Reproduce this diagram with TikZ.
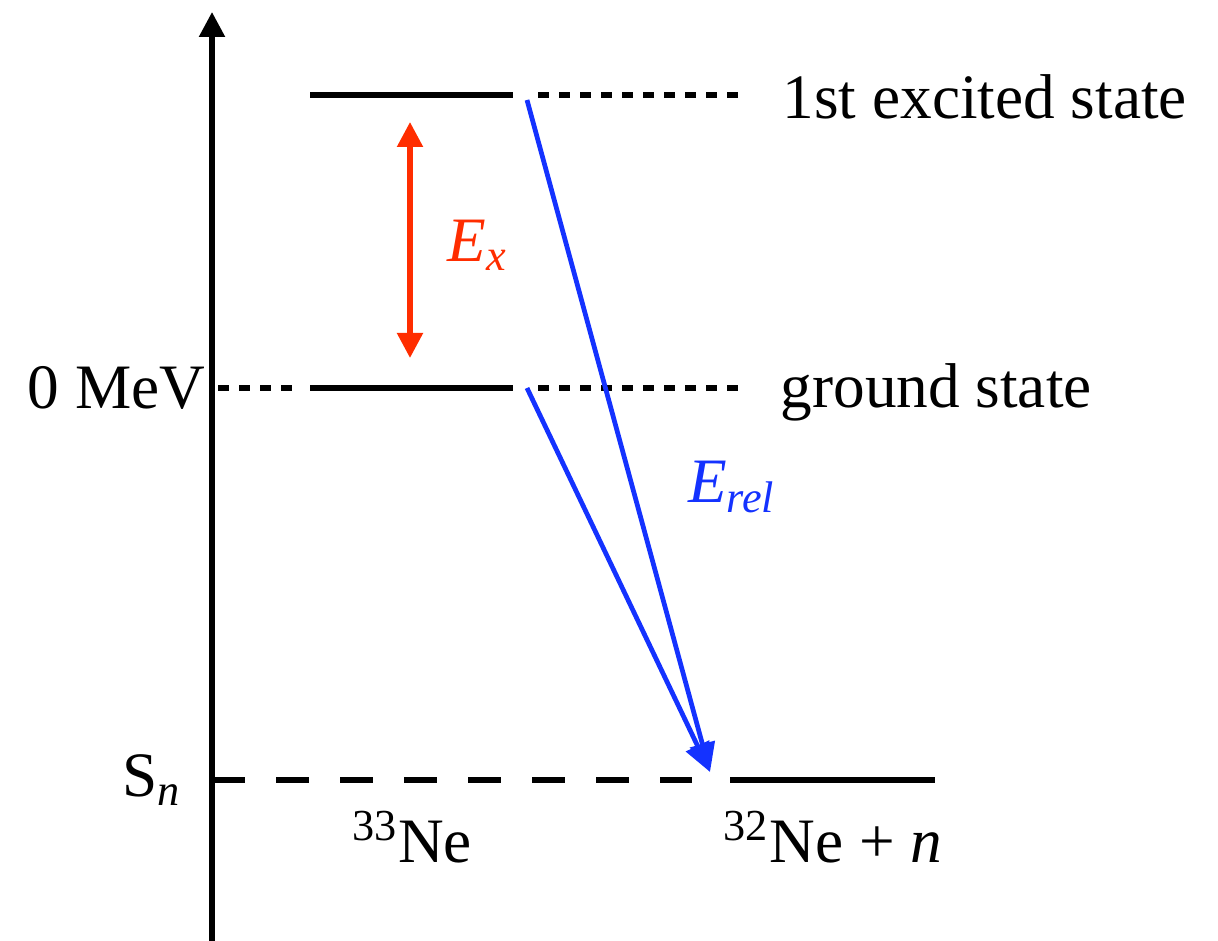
\documentclass[tikz,border=0pt]{standalone}
\usepackage{fontspec}
\setmainfont{Liberation Serif}
\usetikzlibrary{arrows.meta,positioning,calc}
\definecolor{exRed}{RGB}{255,45,0}
\definecolor{relBlue}{RGB}{20,50,255}

\begin{document}
\begin{tikzpicture}[>={Triangle[length=0.25cm,width=0.25cm]}, every node/.style={font=\fontsize{18}{21}\selectfont, inner sep=0pt}]
\tikzstyle{lvl}=[line width=1.6pt]
\tikzstyle{dotlvl}=[line width=1.5pt, dash pattern=on 0.11cm off 0.1cm]
\tikzstyle{snlvl}=[line width=1.5pt, dash pattern=on 0.33cm off 0.31cm]
\tikzstyle{decay}=[->, line width=1.35pt, draw=relBlue, >={Triangle[length=0.29cm,width=0.25cm]}]
\useasboundingbox (0,0) rectangle (12.18,9.41);
% energy axis
\coordinate (ax0) at (2.12,0);
\coordinate (ax1) at (2.12,9.29);
\draw[->, line width=1.5pt] (ax0) -- (ax1);
% 1st excited state
\coordinate (ex0) at (3.10,8.46);
\coordinate (ex1) at (5.13,8.46);
\coordinate (exd0) at (5.38,8.46);
\coordinate (exd1) at (7.40,8.46);
\draw[lvl] (ex0) -- (ex1);
\draw[dotlvl] (exd0) -- (exd1);
\node[right=0.42cm of exd1, anchor=west, yshift=-0.02cm] (exlbl) {1st excited state};
% ground state
\coordinate (gs) at (2.18,5.53);
\coordinate (gsd) at (2.95,5.53);
\coordinate (gs0) at (3.10,5.53);
\coordinate (gs1) at (5.13,5.53);
\coordinate (gsd0) at (5.38,5.53);
\coordinate (gsd1) at (7.40,5.53);
\draw[dotlvl] (gs) -- (gsd);
\draw[lvl] (gs0) -- (gs1);
\draw[dotlvl] (gsd0) -- (gsd1);
\node[left=0.12cm of gs, anchor=east] (mev) {0 MeV};
\node[right=0.40cm of gsd1, anchor=west, yshift=-0.04cm] (gslbl) {ground state};
% neutron threshold
\coordinate (sn0) at (2.12,1.61);
\coordinate (sn1) at (6.92,1.61);
\coordinate (nn0) at (7.30,1.61);
\coordinate (nn1) at (9.35,1.61);
\draw[snlvl] (sn0) -- (sn1);
\draw[lvl] (nn0) -- (nn1);
\node[left=0.30cm of sn0, anchor=east] (snlbl) {S\textsubscript{\textit{n}}};
\coordinate (ne33pos) at (4.12,1.61);
\coordinate (ne32pos) at (8.33,1.61);
\node[below=0.30cm of ne33pos] (ne33) {\textsuperscript{33}Ne};
\node[below=0.30cm of ne32pos] (ne32) {\textsuperscript{32}Ne + \textit{n}};
% excitation energy
\coordinate (exa) at (4.10,8.19);
\coordinate (exb) at (4.10,5.83);
\draw[<->, line width=1.5pt, draw=exRed] (exa) -- (exb);
\node[text=exRed] (exsym) at (4.78,6.96) {\textit{E}\textsubscript{\textit{x}}};
% decays into 32Ne + n
\coordinate (tip) at (7.10,1.69);
\draw[decay] (5.27,8.41) -- (tip);
\draw[decay] (5.27,5.53) -- (tip);
\node[text=relBlue] (relsym) at (7.32,4.54) {\textit{E}\textsubscript{\textit{rel}}};
\end{tikzpicture}
\end{document}
